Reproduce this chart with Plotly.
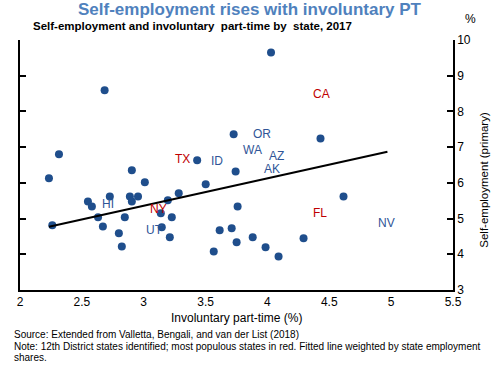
import plotly.graph_objects as go

# Scatter data: involuntary part-time (%) vs self-employment (primary, %)
invol_pt = [2.684, 2.315, 2.234, 3.727, 3.432, 3.743, 2.904, 3.009, 3.501, 2.726,
            2.888, 2.954, 2.904, 3.283, 3.195, 2.549, 2.581, 3.759, 2.261, 2.631,
            2.670, 2.847, 2.799, 2.823, 3.138, 3.227, 3.146, 3.211, 3.566, 3.614,
            3.711, 3.751, 3.881, 3.985, 4.090, 4.292, 4.429, 4.615, 4.029]
self_emp = [8.59, 6.80, 6.13, 7.36, 6.63, 6.32, 6.35, 6.02, 5.96, 5.62,
            5.62, 5.62, 5.48, 5.71, 5.51, 5.48, 5.34, 5.34, 4.81, 5.04,
            4.78, 5.04, 4.59, 4.22, 5.15, 5.04, 4.76, 4.48, 4.08, 4.67,
            4.73, 4.34, 4.48, 4.20, 3.94, 4.45, 7.24, 5.62, 9.65]

# Fitted line endpoints
fit_x = [2.234, 4.970]
fit_y = [4.77, 6.87]

# State labels
state_names = ["TX", "ID", "OR", "WA", "AZ", "AK", "CA", "HI", "NY", "UT", "FL", "NV"]
state_x = [3.311, 3.590, 3.953, 3.881, 4.074, 4.040, 4.433, 2.713, 3.122, 3.087, 4.427, 4.965]
state_y = [6.66, 6.60, 7.36, 6.91, 6.75, 6.38, 8.49, 5.40, 5.26, 4.67, 5.15, 4.88]
state_populous = [True, False, False, False, False, False, True, False, True, False, True, False]

x_ticks = [2, 2.5, 3, 3.5, 4, 4.5, 5, 5.5]
y_ticks = [3, 4, 5, 6, 7, 8, 9, 10]

FONT = "Liberation Sans, Arial, sans-serif"
BLUE = "#1F4E8C"
RED = "#C00000"
LBLUE = "#2F5597"

fig = go.Figure()
fig.add_trace(go.Scatter(x=invol_pt, y=self_emp, mode="markers",
                         marker=dict(color=BLUE, size=8, line=dict(width=0)),
                         showlegend=False, hoverinfo="x+y"))
fig.add_trace(go.Scatter(x=fit_x, y=fit_y, mode="lines",
                         line=dict(color="black", width=2),
                         showlegend=False, hoverinfo="skip"))

annotations = []
for n, sx, sy, pop in zip(state_names, state_x, state_y, state_populous):
    annotations.append(dict(x=sx, y=sy, xref="x", yref="y", text=n, showarrow=False,
                            borderpad=0,
                            font=dict(family=FONT, size=12, color=RED if pop else LBLUE)))

annotations += [
    dict(x=250, y=10, text="<b>Self-employment rises with involuntary PT</b>",
         showarrow=False, font=dict(family=FONT, size=17, color="#4F81BD")),
    dict(x=31, y=26, text="<b>Self-employment and involuntary  part-time by  state, 2017</b>",
         showarrow=False, xanchor="left", font=dict(family=FONT, size=11.5, color="black")),
    dict(x=471, y=19, text="%", showarrow=False, font=dict(family=FONT, size=12, color="black")),
    dict(x=484, y=180, text="Self-employment (primary)", textangle=-90, showarrow=False,
         font=dict(family=FONT, size=11.5, color="black")),
    dict(x=237, y=318, text="Involuntary part-time (%)", showarrow=False,
         font=dict(family=FONT, size=12, color="black")),
    dict(x=12, y=334, text="Source: Extended from Valletta, Bengali, and van der List (2018)", xanchor="left",
         showarrow=False, font=dict(family=FONT, size=10, color="black")),
    dict(x=12, y=346.5, text="Note: 12th District states identified; most populous states in red. Fitted line weighted by state employment",
         xanchor="left", showarrow=False, font=dict(family=FONT, size=10, color="black")),
    dict(x=12, y=357.5, text="shares.", xanchor="left", showarrow=False,
         font=dict(family=FONT, size=10, color="black")),
]

# convert pixel-positioned annotations to paper coords
W, H = 500, 365
L, R, T, B = 20.3, 46.7, 40, 75
pw, ph = W - L - R, H - T - B
fixed = []
for a in annotations:
    if a.get("xref") == "x":
        fixed.append(a)
        continue
    px, py = a["x"], a["y"]
    a["x"] = (px - L) / pw
    a["y"] = (H - B - py) / ph
    a["xref"] = "paper"
    a["yref"] = "paper"
    a["xanchor"] = a.get("xanchor", "center")
    a["yanchor"] = "middle"
    fixed.append(a)

fig.update_layout(
    width=W, height=H, autosize=False,
    margin=dict(l=L, r=R, t=T, b=B, pad=0),
    paper_bgcolor="white", plot_bgcolor="white",
    font=dict(family=FONT, size=12, color="black"),
    xaxis=dict(range=[2, 5.5], tickvals=x_ticks, ticktext=[str(v) for v in x_ticks],
               showgrid=False, zeroline=False, showline=True, linecolor="black", linewidth=1.5,
               ticks="", tickfont=dict(family=FONT, size=12, color="black")),
    yaxis=dict(range=[3, 10], tickvals=y_ticks, ticktext=[str(v) for v in y_ticks],
               side="right", showgrid=False, zeroline=False, showline=True, linecolor="black",
               linewidth=1.5, mirror="ticks", ticks="inside", ticklen=6, tickcolor="black",
               tickwidth=1.5, tickfont=dict(family=FONT, size=12, color="black")),
    annotations=fixed,
)

fig.write_html("out.html", config={"displayModeBar": False},
               post_script="document.body.style.margin='0';document.body.style.overflow='hidden';")
